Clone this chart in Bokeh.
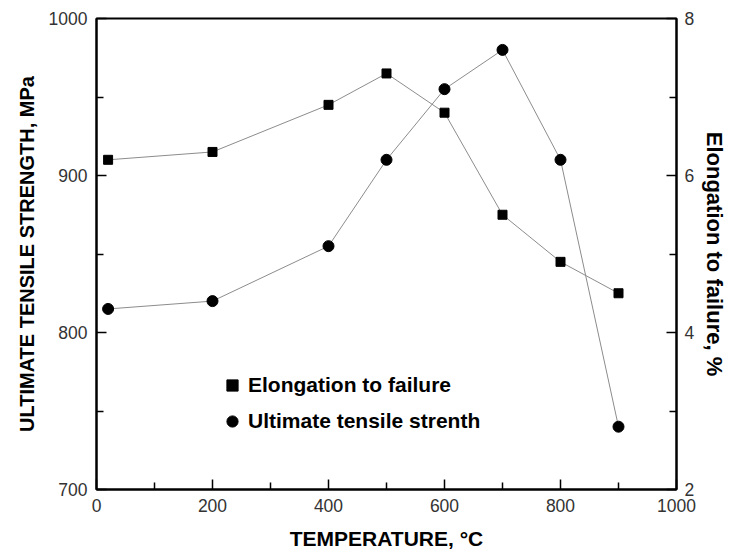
from bokeh.plotting import figure
from bokeh.models import Range1d, LinearAxis, FixedTicker, Legend, LegendItem
from bokeh.embed import file_html
from bokeh.resources import INLINE

temperature = [20, 200, 400, 500, 600, 700, 800, 900]
elongation = [6.2, 6.3, 6.9, 7.3, 6.8, 5.5, 4.9, 4.5]
uts = [815, 820, 855, 910, 955, 980, 910, 740]

x_ticks = [0, 200, 400, 600, 800, 1000]
x_minor = [100, 300, 500, 700, 900]
left_ticks = [700, 800, 900, 1000]
left_minor = [750, 850, 950]
right_ticks = [2, 4, 6, 8]
right_minor = [3, 5, 7]

FONT = "Liberation Sans"

p = figure(frame_width=580, frame_height=471, output_backend="svg", toolbar_location=None,
           x_range=Range1d(0, 1000), y_range=Range1d(700, 1000),
           min_border_left=96, min_border_right=46, min_border_top=18, min_border_bottom=60)
p.extra_y_ranges = {"el": Range1d(2, 8)}
p.grid.visible = False
p.outline_line_color = "black"
p.outline_line_width = 2
p.background_fill_color = "white"
p.border_fill_color = "white"

line_color = "#8c8c8c"
p.line(temperature, uts, line_color=line_color, line_width=1)
p.line(temperature, elongation, line_color=line_color, line_width=1, y_range_name="el")
r_sq = p.scatter(temperature, elongation, marker="square", size=9, color="black", y_range_name="el")
r_ci = p.scatter(temperature, uts, marker="circle", size=11, color="black")

right_axis = LinearAxis(y_range_name="el")
p.add_layout(right_axis, "right")

def style(ax, ticks, minor, label, standoff, label_standoff, label_size):
    ax.ticker = FixedTicker(ticks=ticks, minor_ticks=minor)
    ax.axis_label = label
    ax.axis_label_text_font = FONT
    ax.axis_label_text_font_style = "bold"
    ax.axis_label_text_font_size = label_size
    ax.axis_label_text_color = "black"
    ax.axis_label_standoff = label_standoff
    ax.major_label_text_font = FONT
    ax.major_label_text_font_size = "17.5px"
    ax.major_label_text_color = "#333333"
    ax.major_label_standoff = standoff
    ax.axis_line_color = "black"
    ax.axis_line_width = 2
    ax.major_tick_in = 10
    ax.major_tick_out = 0
    ax.minor_tick_in = 7
    ax.minor_tick_out = 0
    ax.major_tick_line_width = 1.5
    ax.minor_tick_line_width = 1.5
    ax.major_tick_line_color = "black"
    ax.minor_tick_line_color = "black"

style(p.xaxis[0], x_ticks, x_minor, "TEMPERATURE, °C", 9, 12, "21px")
style(p.yaxis[0], left_ticks, left_minor, "ULTIMATE TENSILE STRENGTH, MPa", 9, 8, "20px")
style(right_axis, right_ticks, right_minor, "Elongation to failure, %", 8, 5, "22px")

legend = Legend(items=[LegendItem(label="Elongation to failure", renderers=[r_sq]),
                       LegendItem(label="Ultimate tensile strenth", renderers=[r_ci])],
                location=(122, 54), padding=0, margin=0, spacing=8,
                glyph_width=28, glyph_height=28, label_height=28, label_standoff=2,
                label_text_font=FONT, label_text_font_style="bold", label_text_font_size="21px",
                label_text_color="black",
                border_line_color=None, background_fill_alpha=0)
p.add_layout(legend, "center")

open("out.html", "w").write(file_html(p, INLINE))
